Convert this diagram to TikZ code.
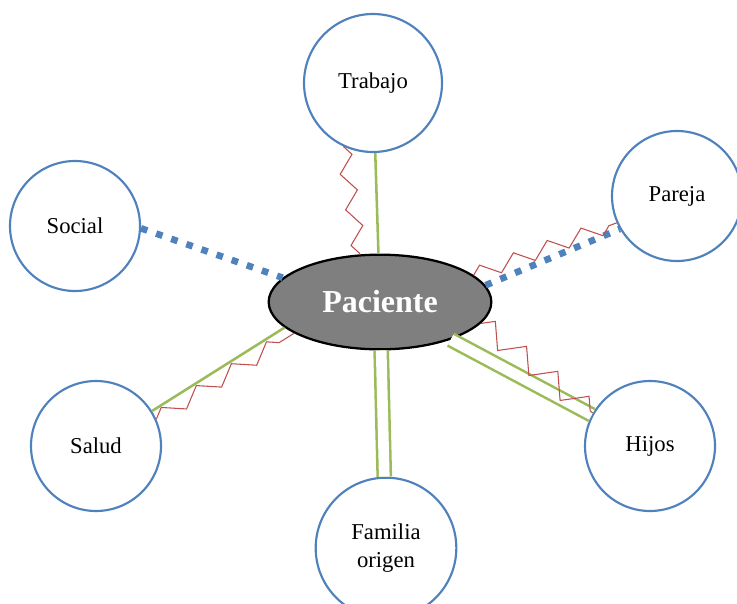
\documentclass[tikz,border=0pt]{standalone}
\usepackage{fontspec}
\setmainfont{Liberation Serif}
\usetikzlibrary{shapes.geometric,decorations.pathmorphing}

\definecolor{azul}{HTML}{4F81BD}
\definecolor{verde}{HTML}{9BBB59}
\definecolor{rojo}{HTML}{C0504D}
\definecolor{gris}{HTML}{7F7F7F}

\begin{document}
\begin{tikzpicture}[
  x=0.75pt, y=-0.75pt,
  area/.style={circle, draw=azul, line width=1.6pt, fill=white, minimum size=97.5pt, inner sep=0pt, align=center, font=\fontsize{17}{21.5}\selectfont},
  centro/.style={ellipse, draw=black, line width=1.7pt, fill=gris, minimum width=167pt, minimum height=71pt, inner sep=0pt, text=white, font=\fontsize{24}{28}\selectfont\bfseries},
  vinculo/.style={draw=verde, line width=1.9pt},
  doble/.style={vinculo, double=white, double distance=8pt},
  distante/.style={draw=azul, line width=5pt, dash pattern=on 5pt off 7pt},
  conflicto/.style={draw=rojo, line width=0.8pt, decorate, decoration={zigzag, segment length=27pt, amplitude=5.5pt}}
]
\useasboundingbox (0,0) rectangle (737,603);

% nodos
\node[centro] (paciente) at (380,302) {Paciente};
\node[area, minimum size=103.5pt] (trabajo) at (373,83) {Trabajo};
\node[area] (pareja) at (677,196) {Pareja};
\node[area] (social) at (75,226) {Social};
\node[area] (salud) at (96,446) {Salud};
\node[area, minimum size=105.5pt] (familia) at (386,548) {Familia\\origen};
\node[area] (hijos) at (650,446) {Hijos};

% relaciones
\draw[vinculo] (trabajo) -- (paciente);
\draw[conflicto] (trabajo.245) -- (paciente.113);
\draw[distante] (paciente.9) -- (pareja.210);
\draw[conflicto] (paciente.16) -- (pareja.204);
\draw[distante] (social.-2) -- (paciente.166);
\draw[vinculo] (salud.32) -- (paciente.195);
\draw[conflicto, decoration={segment length=31pt}] (salud.24) -- (paciente.200);
\draw[doble] (paciente) -- (familia);
\draw[doble] (paciente) -- (hijos);
\draw[conflicto, decoration={segment length=30pt, amplitude=8pt}] (paciente.-12) -- (hijos.150);
\end{tikzpicture}
\end{document}
